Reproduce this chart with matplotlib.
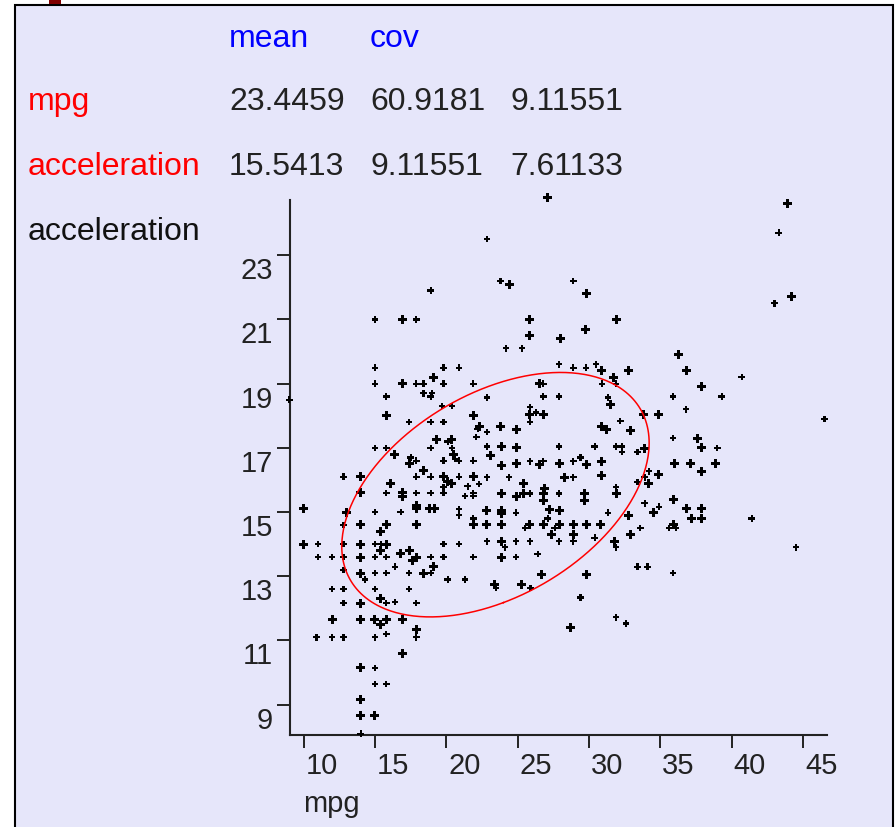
import numpy as np
import matplotlib.pyplot as plt
from matplotlib.patches import Rectangle

# summary table shown above the plot
mean_mpg, mean_acc = 23.4459, 15.5413
cov = np.array([[60.9181, 9.11551],
                [9.11551, 7.61133]])
col_heads = ["mean", "cov"]
row_names = ["mpg", "acceleration"]
table_vals = [["23.4459", "60.9181", "9.11551"],
              ["15.5413", "9.11551", "7.61133"]]

x_ticks = [10, 15, 20, 25, 30, 35, 40, 45]
y_ticks = [9, 11, 13, 15, 17, 19, 21, 23]

# points; n = 2 where two cars overlap
mpg = [
    18.9, 15, 16.9, 17.9, 15, 19.8, 20.9, 15, 16.9, 17.9, 18.4, 19.1, 19.8, 21.9,
    27.1, 22.85, 23.8, 24.4, 28.9, 29.8, 25.85, 25.85, 31.9, 24.2, 25.3, 28.0,
    29.75, 27.9, 28.9, 29.8, 30.5, 30.9, 31.7, 31.9, 32.8, 26.5, 26.8, 30.9,
    43.9, 43.3, 44.2, 43.0, 36.3, 36.8, 40.7, 37.9,
    35.9, 39.3, 36.8, 46.5, 35.9, 37.6, 37.9, 39.0, 36.0, 37.1, 38.9, 37.9,
    35.9, 36.8, 37.9, 37.2, 37.9, 35.9, 35.6, 36.1, 41.4, 44.5, 35.9,
    9.0, 18.4, 19.0, 15.8, 18.9, 19.7, 20.4, 15.8, 21.9, 17.4,
    18.9, 19.8, 22.2, 19.3, 18.9, 20.4, 20.1, 20.4, 15.0, 15.8,
    16.4, 17.5, 17.4, 17.9, 20.5, 20.6, 19.8, 20.9, 21.9, 18.4,
    12.8, 14.0, 17.9, 18.9, 19.8, 20.9, 21.9, 20.1, 20.4, 19.8,
    16.1, 15.8, 14.0, 16.9, 16.9, 17.9, 18.9, 19.8, 21.5, 21.9,
    21.3, 21.9, 10.0, 13.0, 15.0, 16.8, 17.9, 17.9, 18.8, 19.2,
    20.9, 20.9, 21.9, 21.9, 12.8, 14.0, 15.8, 17.9, 15.4, 10.0,
    11.0, 12.8, 14.0, 15.0, 15.4, 15.8, 19.8, 20.9, 15.4, 11.0,
    12.0, 12.8, 14.0, 15.0, 15.8, 16.8, 17.4, 17.6, 17.9, 18.9,
    19.8, 21.9, 16.4, 19.1, 12.8, 14.0, 15.0, 15.8, 17.4, 18.4,
    18.9,
    14.3, 20.1, 21.3, 12.0, 12.8, 15.0, 17.4, 15.4, 15.8, 16.4,
    12.8, 14.0, 17.9, 12.0, 14.0, 15.0, 15.4, 15.8, 16.9, 17.9,
    15.8, 10.9, 12.0, 12.8, 15.0, 17.9, 16.9, 14.0, 15.0, 15.0,
    15.8, 14.0, 14.0, 15.0, 14.0,
    22.85, 26.8, 27.9, 31.35, 31.5, 25.85, 25.85, 26.3, 26.8, 25.85,
    33.8, 34.9, 32.2, 22.35, 22.85, 22.1, 23.8, 24.9, 30.9, 31.2,
    32.9, 22.85, 23.9, 24.9, 27.9, 30.4, 31.9, 32.3, 32.3, 33.9,
    33.4, 23.1, 23.9, 24.9, 25.85, 26.5, 26.8, 27.9, 28.9, 29.4,
    29.8, 30.9, 34.2, 34.9, 22.85, 24.4, 28.3, 28.9, 30.9, 33.9,
    34.2, 33.4, 22.3, 25.4, 23.9, 24.9, 25.4, 25.85, 26.9, 26.8,
    26.8, 27.9, 29.7, 29.7, 31.9, 31.9, 33.9, 34.9, 34.5, 22.85,
    23.9, 23.9, 24.9, 27.2, 27.9, 31.35, 32.8, 22.85, 23.9, 25.85,
    25.5, 27.1, 26.8, 27.9, 27.6, 28.9, 29.8, 30.8, 33.6, 32.9,
    27.4, 28.9, 22.85, 23.9, 24.1, 24.9, 25.85, 27.9, 28.9, 30.4,
    31.8, 31.9, 23.9, 24.9, 26.4, 33.4, 34.1, 26.7, 29.8,
    23.35, 23.5, 25.3, 25.9, 29.4, 28.7, 31.9, 32.6,
]
acceleration = [
    21.9, 21.0, 21.0, 21.0, 19.5, 19.5, 19.5, 19.0, 19.0, 19.0, 19.0, 19.2, 19.0, 19.0,
    24.8, 23.5, 22.2, 22.1, 22.2, 21.8, 21.0, 20.5, 21.0, 20.1, 20.1, 20.4,
    20.7, 19.6, 19.5, 19.5, 19.6, 19.4, 19.2, 19.0, 19.4, 19.0, 19.0, 19.0,
    24.6, 23.7, 21.7, 21.5, 19.9, 19.4, 19.2, 18.9,
    18.6, 18.6, 18.2, 17.9, 17.3, 17.3, 17.0, 17.0, 16.5, 16.5, 16.5, 16.25,
    15.4, 15.1, 15.1, 14.8, 14.8, 14.6, 14.5, 14.5, 14.8, 13.9, 13.1,
    18.5, 18.7, 18.7, 18.6, 18.6, 18.3, 18.3, 18.0, 18.0, 17.8,
    17.8, 17.8, 17.6, 17.25, 17.0, 17.25, 17.2, 17.0, 17.0, 17.0,
    16.8, 16.7, 16.5, 16.6, 16.8, 16.65, 16.6, 16.6, 16.6, 16.3,
    16.1, 16.1, 16.1, 16.1, 16.1, 16.1, 16.1, 15.96, 15.88, 15.77,
    15.9, 15.6, 15.6, 15.6, 15.48, 15.6, 15.6, 15.6, 15.8, 15.6,
    15.5, 15.5, 15.1, 15.0, 15.0, 15.0, 15.2, 15.1, 15.1, 15.1,
    15.1, 14.9, 14.8, 14.6, 14.6, 14.6, 14.6, 14.6, 14.4, 14.0,
    14.0, 14.0, 14.0, 14.0, 14.0, 14.0, 14.0, 14.0, 13.8, 13.6,
    13.6, 13.6, 13.6, 13.6, 13.6, 13.7, 13.8, 13.5, 13.6, 13.6,
    13.6, 13.6, 13.3, 13.3, 13.2, 13.1, 13.1, 13.1, 13.1, 13.1,
    13.1,
    12.9, 12.9, 12.9, 12.6, 12.6, 12.6, 12.6, 12.3, 12.16, 12.2,
    12.16, 12.16, 12.16, 11.65, 11.65, 11.65, 11.5, 11.65, 11.65, 11.35,
    11.2, 11.1, 11.1, 11.1, 11.1, 11.1, 10.6, 10.15, 10.15, 9.65,
    9.65, 9.17, 8.65, 8.65, 8.1,
    18.57, 18.6, 18.6, 18.57, 18.36, 18.26, 18.05, 18.1, 18.05, 17.8,
    18.05, 18.05, 17.84, 17.66, 17.5, 17.34, 17.66, 17.56, 17.66, 17.56,
    17.53, 17.04, 17.04, 17.0, 17.04, 17.04, 17.04, 17.04, 16.87, 16.97,
    16.87, 16.77, 16.46, 16.5, 16.58, 16.48, 16.58, 16.5, 16.58, 16.7,
    16.48, 16.58, 16.27, 16.17, 16.08, 16.08, 16.08, 16.08, 16.15, 16.08,
    15.88, 15.94, 15.88, 15.88, 15.58, 15.48, 15.58, 15.58, 15.74, 15.58,
    15.37, 15.58, 15.58, 15.37, 15.77, 15.58, 15.27, 15.17, 14.98, 15.06,
    15.06, 14.96, 14.98, 15.09, 15.06, 14.98, 14.88, 14.6, 14.6, 14.6,
    14.5, 14.8, 14.6, 14.6, 14.5, 14.6, 14.6, 14.6, 14.5, 14.3,
    14.3, 14.3, 14.09, 14.09, 13.9, 14.09, 14.09, 14.09, 14.09, 14.2,
    14.09, 13.9, 13.6, 13.6, 13.7, 13.3, 13.3, 13.06, 13.06,
    12.73, 12.63, 12.73, 12.63, 12.34, 11.4, 11.72, 11.53,
]
n_cars = [
    1, 1, 2, 1, 1, 1, 1, 1, 2, 1, 1, 2, 1, 1,
    2, 1, 1, 2, 1, 2, 2, 2, 2, 1, 1, 2,
    2, 1, 1, 1, 1, 2, 2, 1, 2, 2, 1, 1,
    2, 1, 2, 1, 2, 2, 1, 2,
    1, 1, 1, 1, 1, 2, 2, 1, 2, 2, 2, 2,
    2, 2, 2, 2, 2, 2, 1, 1, 1, 1, 1,
    1, 1, 1, 1, 1, 1, 1, 2, 2, 1,
    1, 1, 1, 2, 1, 2, 1, 1, 1, 1,
    2, 1, 2, 1, 2, 1, 1, 1, 1, 2,
    1, 2, 1, 1, 2, 1, 2, 2, 2, 1,
    2, 1, 2, 2, 2, 1, 1, 1, 1, 1,
    1, 1, 2, 2, 1, 1, 2, 2, 2, 2,
    1, 1, 1, 2, 1, 2, 2, 2, 2, 2,
    1, 1, 2, 1, 1, 2, 1, 1, 2, 1,
    1, 1, 2, 1, 1, 2, 2, 2, 2, 1,
    1, 1, 1, 2, 1, 2, 1, 1, 1, 2,
    1,
    1, 1, 1, 1, 1, 1, 1, 2, 1, 1,
    1, 2, 1, 2, 2, 2, 2, 2, 2, 2,
    1, 1, 1, 1, 1, 1, 2, 2, 1, 1,
    1, 2, 2, 2, 1,
    1, 1, 1, 1, 2, 1, 2, 1, 2, 1,
    2, 2, 1, 2, 1, 1, 2, 2, 2, 2,
    2, 1, 2, 2, 1, 1, 1, 1, 1, 2,
    1, 2, 2, 2, 1, 2, 1, 2, 1, 1,
    2, 2, 1, 2, 1, 1, 2, 1, 2, 1,
    2, 1, 1, 2, 2, 2, 2, 1, 2, 2,
    2, 1, 2, 2, 1, 2, 1, 1, 2, 2,
    2, 2, 1, 2, 2, 1, 2, 2, 2, 2,
    1, 1, 2, 2, 1, 2, 2, 2, 1, 2,
    2, 2, 1, 2, 1, 1, 1, 1, 1, 1,
    2, 1, 2, 1, 1, 1, 1, 2, 2,
    2, 1, 2, 1, 1, 2, 1, 1,
]
assert len(mpg) == len(acceleration) == len(n_cars)

W, H = 896, 827
LAV = "#E6E6FA"
FONT = "Liberation Sans"
plt.rcParams["font.family"] = [FONT, "DejaVu Sans"]


def fx(px):
    return px / W


def fy(py):
    return 1 - py / H


fig = plt.figure(figsize=(W / 100, H / 100), dpi=100, facecolor="white")

# applet frame
fig.add_artist(Rectangle((fx(15), -0.01), fx(893) - fx(15), fy(5) + 0.01,
                         transform=fig.transFigure, fc=LAV, ec="black",
                         lw=1.5, zorder=-2))
fig.add_artist(Rectangle((fx(49), fy(4)), fx(12), 4 / H, transform=fig.transFigure,
                         fc="#800000", ec="none", zorder=-1))

# table text
for head, px in zip(col_heads, [229, 370]):
    fig.text(fx(px), fy(47), head, color="blue", fontsize=23, va="baseline")
for row, (name, vals, py) in enumerate(zip(row_names, table_vals, [110, 175])):
    fig.text(fx(28), fy(py), name, color="red", fontsize=23, va="baseline")
    for v, px in zip(vals, [229, 370, 510]):
        fig.text(fx(px), fy(py), v, color="#222222", fontsize=23, va="baseline")
fig.text(fx(28), fy(240), "acceleration", color="#111111", fontsize=23, va="baseline")
fig.text(fx(303), fy(812), "mpg", color="#222222", fontsize=21, va="baseline")

ax = fig.add_axes([fx(290), fy(735), fx(826.7) - fx(290), (735 - 200) / H])
ax.set_facecolor("none")
ax.set_xlim(9.047, 46.66)
ax.set_ylim(8.056, 24.72)
for s in ["top", "right"]:
    ax.spines[s].set_visible(False)
for s in ["left", "bottom"]:
    ax.spines[s].set_linewidth(1.5)
    ax.spines[s].set_color("#222222")
ax.set_xticks(x_ticks)
ax.set_yticks(y_ticks)
ax.set_xticklabels([])
ax.set_yticklabels([])
ax.tick_params(length=9.3, width=1.4, color="#222222", direction="out")

for t in x_ticks:
    ax.annotate(str(t), xy=(t, 0), xycoords=("data", "axes fraction"),
                xytext=(2, -31.5), textcoords="offset pixels",
                ha="left", va="center", fontsize=21, color="#222222")
for t in y_ticks:
    ax.annotate(str(t), xy=(0, t), xycoords=("axes fraction", "data"),
                xytext=(-17, -16), textcoords="offset pixels",
                ha="right", va="center", fontsize=21, color="#222222")

sizes = [22 if n == 1 else 42 for n in n_cars]
ax.scatter(mpg, acceleration, s=sizes, marker="P", color="black",
           linewidths=0, clip_on=False, zorder=3)

# covariance ellipse
k = 1.38
vals, vecs = np.linalg.eigh(cov)
t = np.linspace(0, 2 * np.pi, 400)
circle = np.vstack([np.cos(t), np.sin(t)])
pts = vecs @ (np.sqrt(vals)[:, None] * circle) * k
ax.plot(mean_mpg + pts[0], mean_acc + pts[1], color="red", lw=1.1, zorder=4)

fig.savefig("out.png", dpi=100)
